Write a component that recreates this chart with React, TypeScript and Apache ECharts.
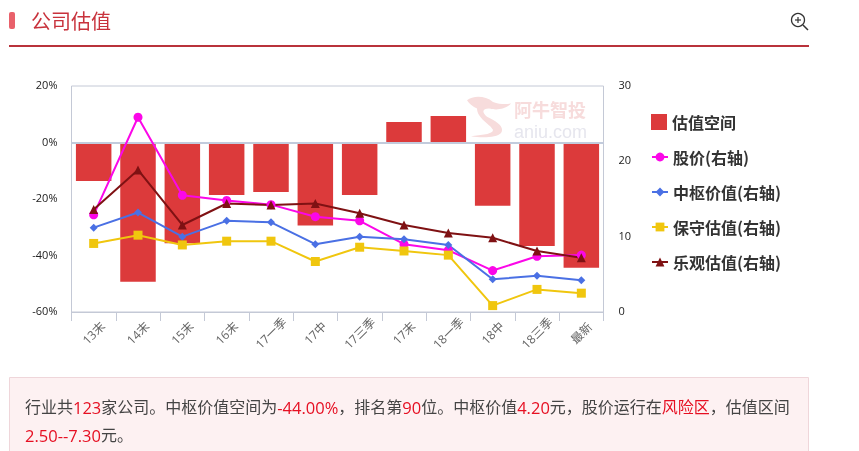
import React, { useEffect, useRef } from "react";
import * as echarts from "echarts";

const categories = ["13末", "14末", "15末", "16末", "17一季", "17中", "17三季", "17末", "18一季", "18中", "18三季", "最新"];
const valuationSpace = [-13.6, -49.3, -35.7, -18.6, -17.5, -29.4, -18.6, 7.3, 9.4, -22.4, -36.6, -44.3];
const stockPrice = [12.9, 25.85, 15.5, 14.8, 14.25, 12.65, 12.1, 9.0, 8.2, 5.5, 7.4, 7.55];
const centralValue = [11.2, 13.2, 10.0, 12.1, 11.9, 9.0, 10.0, 9.65, 8.9, 4.35, 4.8, 4.2];
const conservativeValue = [9.1, 10.2, 8.9, 9.4, 9.4, 6.7, 8.6, 8.1, 7.55, 0.85, 3.0, 2.5];
const optimisticValue = [13.6, 18.85, 11.55, 14.4, 14.2, 14.4, 13.1, 11.55, 10.5, 9.85, 8.1, 7.2];

const FONT = '"Noto Sans CJK SC", "Noto Sans", sans-serif';
const NOTE_FONT = '"Open Sans", "Noto Sans CJK SC", sans-serif';
const GREY = "#444";
const RED = "#e60f22";
const AXIS = "#c4c9d6";

echarts.graphic.registerShape(
  "aniuBird",
  echarts.graphic.extendPath(
    "M0 4 C6 -2 18 -2 26 6 C34 10 44 8 44 8 C38 16 28 16 22 14 C16 14 14 18 20 24 C30 30 38 36 34 44 C30 50 14 50 4 48 C14 46 26 46 26 40 C24 34 10 26 10 14 C6 12 2 8 0 4 Z",
    {}
  )
);

const lineSeries = (name: string, data: number[], color: string, symbol: string, symbolSize: number) => ({
  name,
  type: "line",
  yAxisIndex: 1,
  data,
  symbol,
  symbolSize,
  lineStyle: { color, width: 2 },
  itemStyle: { color },
  z: 5,
});

const noteRich = {
  g: { fill: GREY, fontSize: 16, fontFamily: NOTE_FONT },
  r: { fill: RED, fontSize: 16, fontFamily: NOTE_FONT },
  n: { fill: RED, fontSize: 16.5, fontFamily: NOTE_FONT },
};

const legendText = { fontSize: 16, fontWeight: "bold", color: "#333", fontFamily: FONT };
const tickRich = { a: { color: "#222", fontSize: 11, fontFamily: NOTE_FONT, padding: [0, 0, 3, 0] } };

export default function App() {
  const ref = useRef<HTMLDivElement>(null);
  useEffect(() => {
    document.body.style.margin = "0";
    const chart = echarts.init(ref.current!, undefined, { renderer: "svg" });
    chart.setOption({
      animation: false,
      textStyle: { fontFamily: FONT },
      grid: { left: 71.5, right: 255.5, top: 86, bottom: 139, show: true, borderColor: AXIS, borderWidth: 1, z: 0 },
      legend: [
        {
          orient: "vertical",
          left: 646,
          top: 109,
          itemWidth: 16,
          itemHeight: 16,
          data: [{ name: "估值空间", icon: "rect" }],
          textStyle: legendText,
        },
        {
          orient: "vertical",
          left: 646,
          top: 144,
          itemWidth: 16,
          itemHeight: 11,
          itemGap: 19,
          data: ["股价(右轴)", "中枢价值(右轴)", "保守估值(右轴)", "乐观估值(右轴)"],
          textStyle: legendText,
        },
      ],
      xAxis: {
        type: "category",
        data: categories,
        axisLine: { onZero: false, lineStyle: { color: AXIS } },
        axisTick: { show: true, length: 9, lineStyle: { color: AXIS } },
        axisLabel: {
          rotate: 45,
          color: "#666",
          fontSize: 12,
          margin: 21,
          interval: 0,
          align: "center",
          verticalAlign: "middle",
          fontFamily: NOTE_FONT,
        },
      },
      yAxis: [
        {
          type: "value",
          min: -60,
          max: 20,
          interval: 20,
          splitLine: { show: false },
          axisLine: { show: false },
          axisTick: { show: false },
          axisLabel: { margin: 14, formatter: "{a|{value}%}", rich: tickRich },
        },
        {
          type: "value",
          min: 0,
          max: 30,
          interval: 10,
          position: "right",
          splitLine: { show: false },
          axisLine: { show: false },
          axisTick: { show: false },
          axisLabel: { margin: 15, formatter: "{a|{value}}", rich: tickRich },
        },
      ],
      series: [
        {
          name: "估值空间",
          type: "bar",
          data: valuationSpace,
          barWidth: 35.5,
          itemStyle: { color: "#dc3a3b" },
          z: 2,
          markLine: {
            silent: true,
            symbol: "none",
            label: { show: false },
            lineStyle: { color: "#c2cbdc", width: 2, type: "solid" },
            data: [{ yAxis: 0 }],
          },
        },
        lineSeries("股价(右轴)", stockPrice, "#fb07e8", "circle", 9),
        lineSeries("中枢价值(右轴)", centralValue, "#4a70e4", "diamond", 8),
        lineSeries("保守估值(右轴)", conservativeValue, "#f0c60e", "rect", 9),
        lineSeries("乐观估值(右轴)", optimisticValue, "#7f1113", "triangle", 9),
      ],
      graphic: [
        { type: "rect", shape: { x: 9, y: 12, width: 6, height: 17, r: 2 }, style: { fill: "#e9616b" } },
        { type: "text", x: 31, y: 10, style: { text: "公司估值", fill: "#c8323c", fontSize: 20, fontFamily: FONT } },
        { type: "rect", shape: { x: 9, y: 45, width: 800, height: 2 }, style: { fill: "#b9323b" } },
        { type: "circle", shape: { cx: 798, cy: 20, r: 6.5 }, style: { fill: "none", stroke: "#333", lineWidth: 1.3 } },
        { type: "line", shape: { x1: 803, y1: 25, x2: 808, y2: 30 }, style: { stroke: "#333", lineWidth: 1.5 } },
        { type: "line", shape: { x1: 795, y1: 20, x2: 801, y2: 20 }, style: { stroke: "#333", lineWidth: 1.2 } },
        { type: "line", shape: { x1: 798, y1: 17, x2: 798, y2: 23 }, style: { stroke: "#333", lineWidth: 1.2 } },
        { type: "aniuBird", x: 467, y: 97, scaleX: 1, scaleY: 0.82, style: { fill: "#f7dcdc" }, z: 1 },
        { type: "text", x: 514, y: 100, style: { text: "阿牛智投", fill: "#f7dcdc", fontSize: 18, lineHeight: 18, fontWeight: "bold", fontFamily: FONT }, z: 1 },
        { type: "text", x: 514, y: 125, style: { text: "aniu.com", fill: "#e6e6ee", fontSize: 18, lineHeight: 13, fontFamily: '"Liberation Sans", sans-serif' }, z: 1 },
        { type: "rect", shape: { x: 9.5, y: 377.5, width: 799, height: 90 }, style: { fill: "#fdf1f2", stroke: "#efd6da", lineWidth: 1 }, z: -1 },
        {
          type: "text",
          x: 25,
          y: 399,
          style: {
            rich: noteRich,
            text: "{g|行业共}{n|123}{g|家公司。中枢价值空间为}{n|-44.00%}{g|，排名第}{n|90}{g|位。中枢价值}{n|4.20}{g|元，股价运行在}{r|风险区}{g|，估值区间}",
          },
        },
        {
          type: "text",
          x: 25,
          y: 427,
          style: { rich: noteRich, text: "{n|2.50--7.30}{g|元。}" },
        },
      ],
    });
    return () => chart.dispose();
  }, []);
  return <div ref={ref} style={{ width: 859, height: 451, position: "fixed", left: 0, top: 0 }} />;
}
